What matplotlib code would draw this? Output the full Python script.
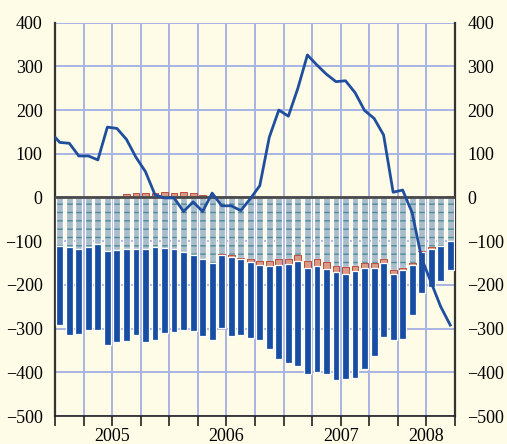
import numpy as np
import matplotlib
matplotlib.use("Agg")
import matplotlib.pyplot as plt
from matplotlib.transforms import blended_transform_factory

# monthly data, Jan 2005 .. Jun 2008
light_blue = [-111, -113, -117, -113, -107, -123, -121, -119, -119, -119, -114, -115,
              -119, -125, -131, -140, -149, -129, -132, -138, -141, -145, -146, -141,
              -140, -132, -145, -141, -147, -156, -160, -156, -149, -149, -141, -167,
              -161, -151, -122, -113, -110, -100]
red_neg = [0, 0, 0, 0, 0, 0, 0, 0, 0, 0, 0, 0,
           0, 0, 0, 0, 0, -3, -5, -3, -7, -10, -11, -13,
           -12, -14, -16, -16, -16, -14, -15, -12, -12, -12, -10, -8,
           -6, -4, -3, -5, 0, 0]
dark_blue = [-180, -201, -195, -191, -197, -215, -209, -210, -196, -211, -212, -196,
             -189, -179, -175, -176, -178, -167, -179, -173, -173, -171, -190, -216,
             -227, -239, -243, -242, -240, -248, -240, -246, -232, -202, -168, -152,
             -156, -115, -94, -86, -80, -66]
red_pos = [2, 0, 0, 0, 0, 0, 0, 7, 10, 10, 11, 12,
           11, 12, 10, 5, 0, 0, 0, 0, 0, 0, 0, 0,
           0, 0, 0, 0, 0, 0, 0, 0, 0, 0, 0, 0,
           0, 0, 0, 0, 2, 4]
# line starts with Dec 2004
line_vals = [150, 126, 124, 95, 95, 86, 161, 158, 133, 92, 59, 6, -1,
             -1, -32, -10, -32, 10, -19, -19, -30, -3, 27, 138, 200,
             186, 250, 326, 303, 282, 265, 267, 240, 199, 181, 143, 12,
             17, -35, -140, -195, -250, -292]
years = ["2005", "2006", "2007", "2008"]
year_months = [12, 12, 12, 6]

bg = "#FEFCE6"
plt.rcParams["font.family"] = ["Liberation Serif", "DejaVu Serif"]

fig = plt.figure(figsize=(5.07, 4.44), dpi=100, facecolor=bg)
ax = fig.add_axes([0.1085, 0.063, 0.789, 0.886], facecolor=bg)

n = len(light_blue)
x = np.arange(n)
lb = np.array(light_blue)
rn = np.array(red_neg)
db = np.array(dark_blue)
w = 0.72

ax.bar(x, lb, width=w, color="#AABDCB", edgecolor="#4E8A98", hatch="--", linewidth=0, zorder=2)
ax.bar(x, lb, width=w, fill=False, edgecolor="white", linewidth=0.9, zorder=3)
ax.bar(x, rn, bottom=lb, width=w, color="#D99A86", edgecolor="#B4392C", linewidth=0.6, zorder=3)
ax.bar(x, db, bottom=lb + rn, width=w, color="#174EA3", edgecolor="white", linewidth=0.9, zorder=3)
ax.bar(x, red_pos, width=w, color="#D99A86", edgecolor="#B4392C", linewidth=0.6, zorder=3)

ax.axhline(0, color="#4A4A4A", linewidth=2, zorder=4)
ax.plot(np.arange(-1, n), line_vals, color="#1F4E9E", linewidth=2, zorder=5, clip_on=True)

ax.set_xlim(-0.5, n - 0.5)
ax.set_ylim(-500, 400)
qticks = np.arange(-0.5, n, 3)
ax.set_xticks(qticks)
ax.set_xticklabels([])
ax.set_yticks(np.arange(-500, 401, 100))
ax.grid(True, color="#A8B4E4", linewidth=1.4, zorder=0)
ax.set_axisbelow(True)

ax.tick_params(axis="x", direction="out", length=7, width=1.2, color="#222222")
ax.tick_params(axis="y", length=0, labelsize=13, pad=9, labelright=True)

ax.spines["top"].set_visible(False)
ax.spines["left"].set_color("#333333")
ax.spines["left"].set_linewidth(1.6)
ax.spines["right"].set_color("#333333")
ax.spines["right"].set_linewidth(1.6)
ax.spines["bottom"].set_color("#222222")
ax.spines["bottom"].set_linewidth(1.2)

trans = blended_transform_factory(ax.transData, ax.transAxes)
start = -0.5
for yr, m in zip(years, year_months):
    ax.annotate(yr, xy=(start + m / 2, 0), xycoords=trans, xytext=(0, -12),
                textcoords="offset pixels", ha="center", va="top", fontsize=13)
    start += m

fig.savefig("out.png", dpi=100, facecolor=bg)
